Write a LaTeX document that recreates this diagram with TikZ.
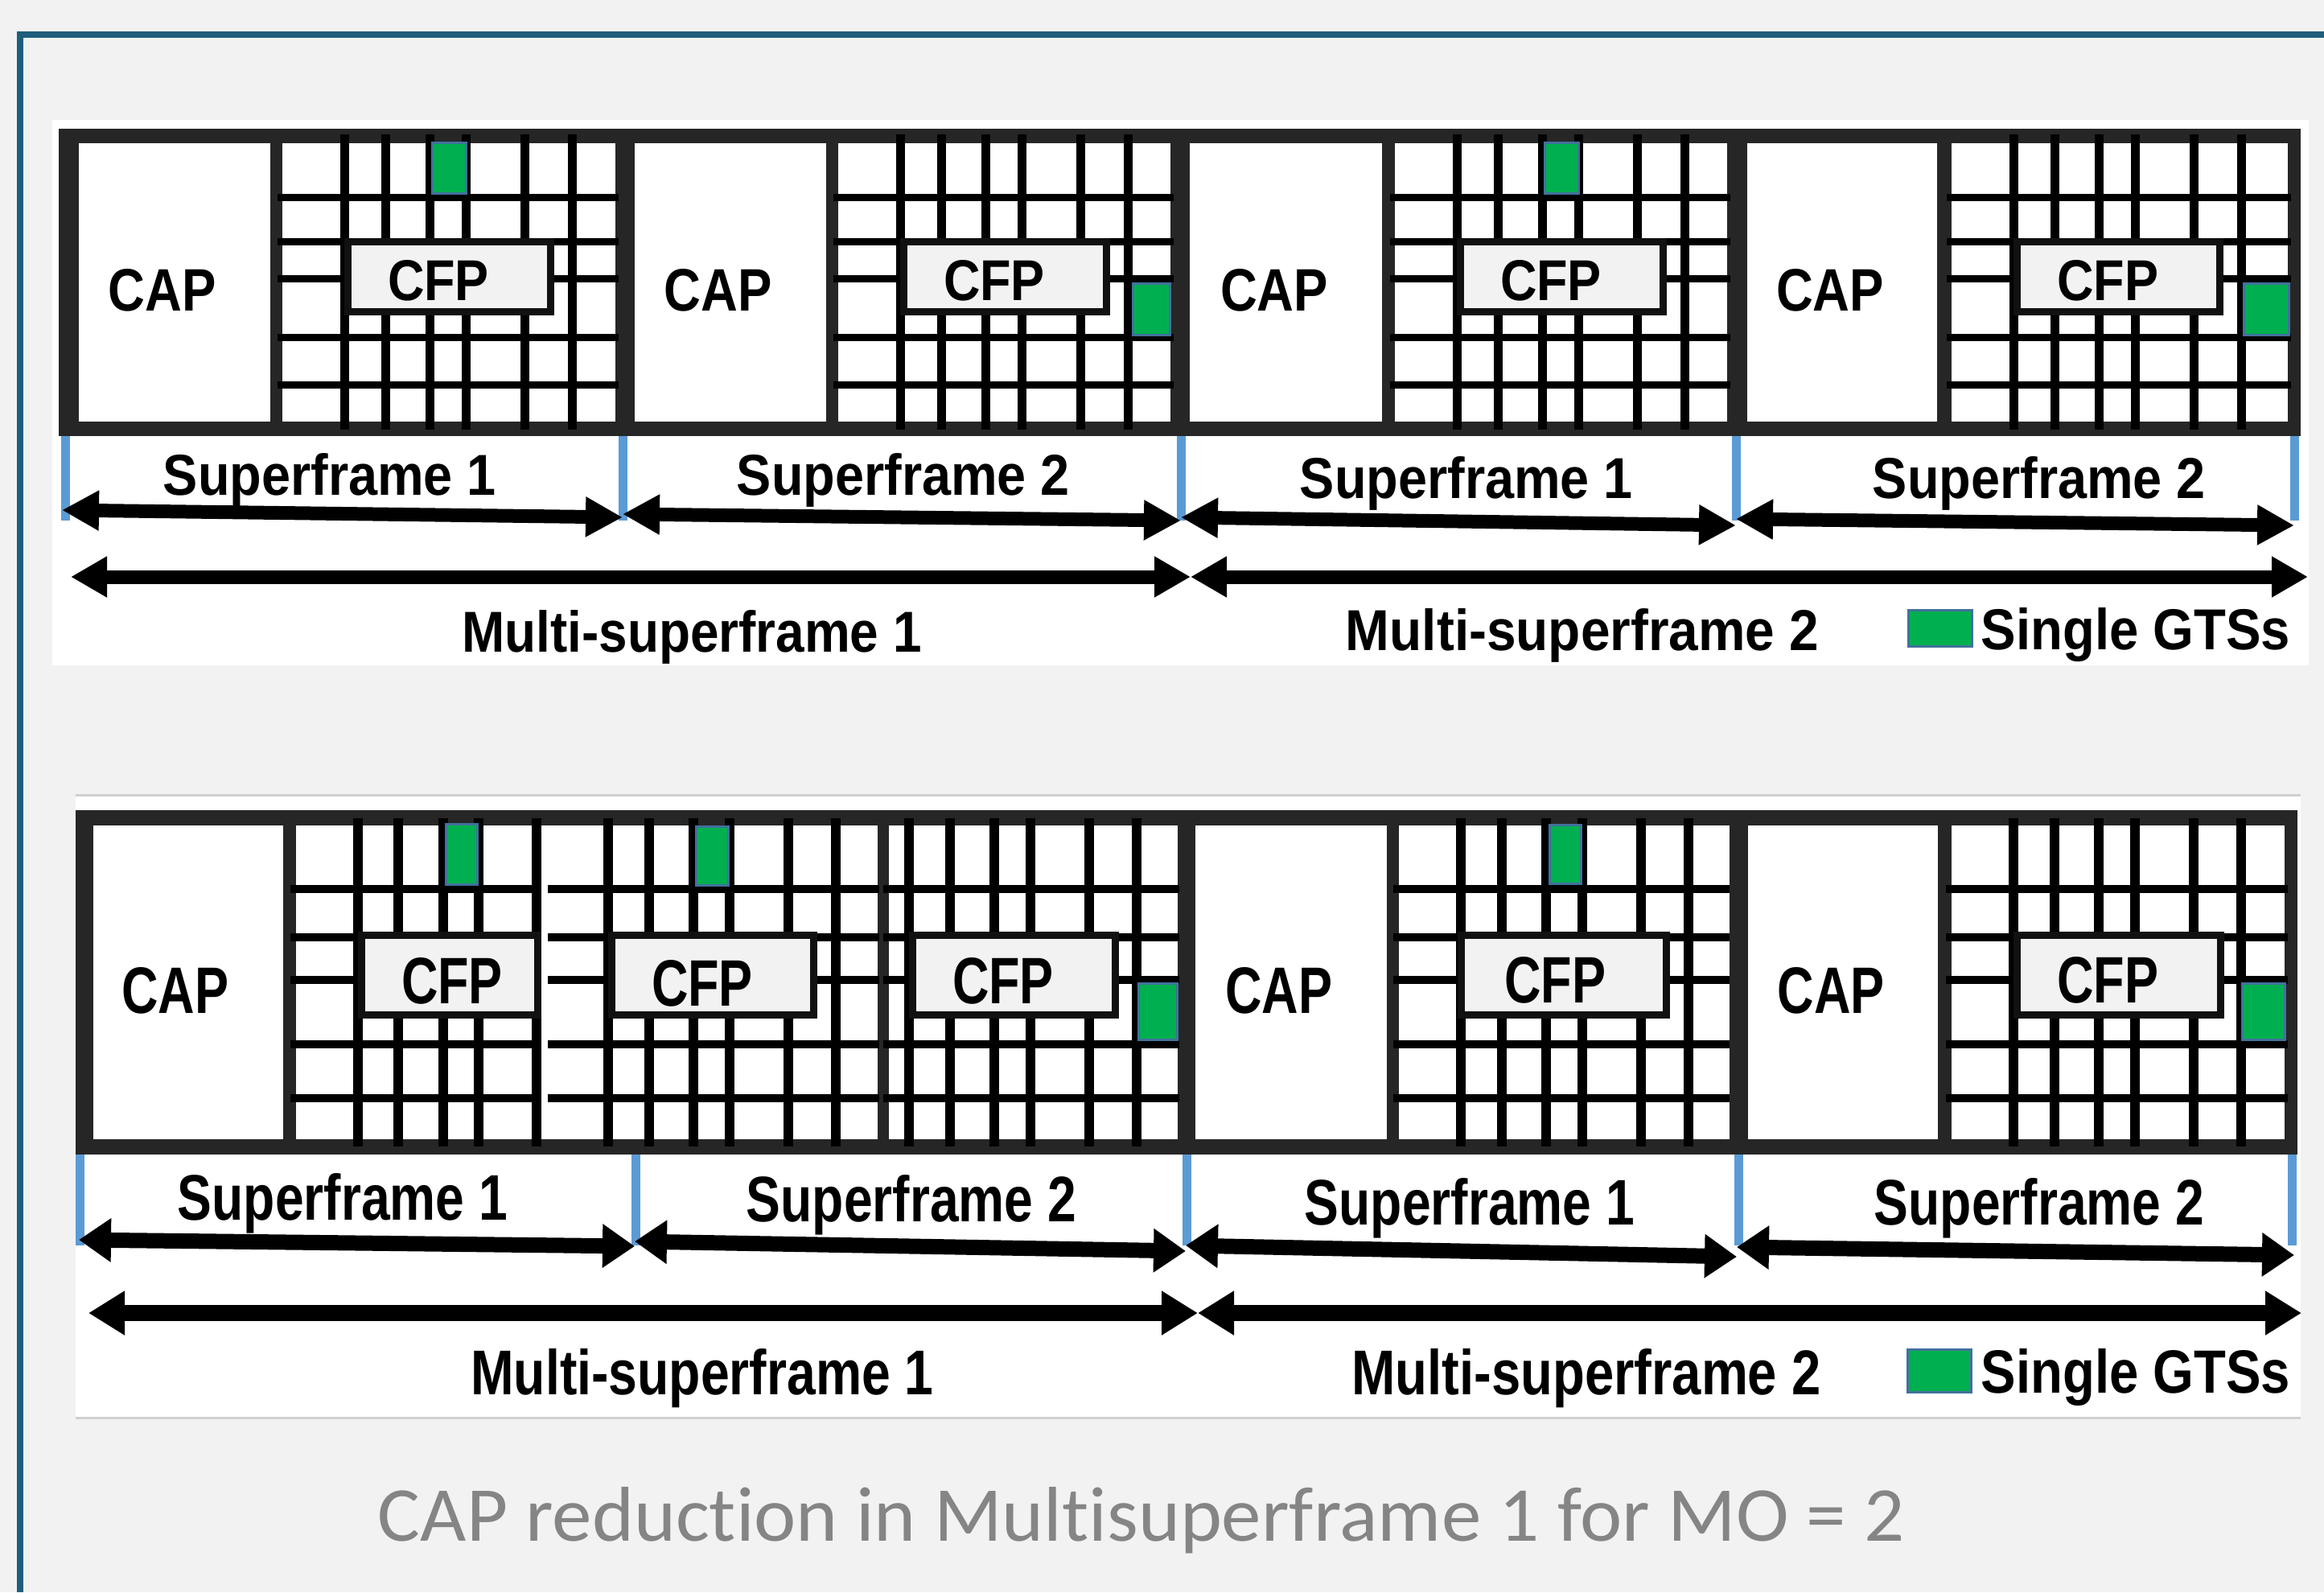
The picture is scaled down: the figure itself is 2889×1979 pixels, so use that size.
\documentclass[tikz,border=0pt]{standalone}
\usepackage{fontspec}
\usepackage{graphicx}
\setsansfont{Liberation Sans}
\newfontfamily\capfont[Ligatures={NoCommon}]{Carlito}
\usetikzlibrary{arrows.meta}
\definecolor{bggray}{HTML}{F2F2F2}
\definecolor{slideteal}{HTML}{1F5E7A}
\definecolor{framedark}{HTML}{262626}
\definecolor{cfpfill}{HTML}{F2F2F2}
\definecolor{cfpedge}{HTML}{111111}
\definecolor{gtsgreen}{HTML}{00B050}
\definecolor{gtsedge}{HTML}{41719C}
\definecolor{boundblue}{HTML}{5B9BD5}
\definecolor{captiongray}{HTML}{858585}
\definecolor{panelline}{HTML}{D0D0D0}
\newcommand{\fitlab}[3]{\resizebox{#1pt}{#2pt}{\sffamily\bfseries #3}}
\begin{document}
\begin{tikzpicture}[x=1pt,y=-1pt,
  txt/.style={anchor=base,inner sep=0pt,outer sep=0pt},
  vline/.style={line width=11pt,black},
  hline/.style={line width=9pt,black},
  vlineb/.style={line width=12pt,black},
  hlineb/.style={line width=10pt,black},
  cfpbox/.style={fill=cfpfill,draw=cfpedge,line width=9pt},
  gts/.style={fill=gtsgreen,draw=gtsedge,line width=3pt},
  bound/.style={draw=boundblue,line width=11pt},
  tline/.style={draw=slideteal,line width=8pt},
  sfa/.style={line width=17pt,arrows={Triangle[length=46pt,width=47pt]-Triangle[length=46pt,width=47pt]}},
  msfa/.style={line width=17pt,arrows={Triangle[length=45pt,width=48pt]-Triangle[length=45pt,width=48pt]}},
  sfb/.style={line width=19pt,arrows={Triangle[length=40pt,width=52pt]-Triangle[length=40pt,width=52pt]}},
  msfb/.style={line width=20pt,arrows={Triangle[length=45pt,width=52pt]-Triangle[length=45pt,width=52pt]}}
]
% background and slide frame
\fill[bggray] (0,0) rectangle (2889,1979);
\useasboundingbox (0,0) rectangle (2889,1979);
\draw[tline] (21,43) -- (2889,43);
\draw[tline] (24.5,39) -- (24.5,1979);

% ================= TOP PANEL =================
\fill[white] (65,149) rectangle (2870,827);
\fill[framedark] (73,160) rectangle (2860,542);
\foreach \a/\b in {98/336, 351/765, 789/1027, 1042/1455, 1479/1718, 1734/2147, 2172/2408, 2426/2844}
  \fill[white] (\a,178) rectangle (\b,524);
\foreach \gx/\ge in {351/765, 1042/1455, 1734/2147, 2426/2844} {
  \foreach \y in {245,300,346,419,478}
    \draw[hline] (\gx-6,\y) -- (\ge+4,\y);
  \foreach \o in {77,128,183,228,301,360}
    \draw[vline] (\gx+\o,167) -- (\gx+\o,534);
  \draw[cfpbox] (\gx+81.5,300.5) rectangle (\gx+333.5,387.5);
}
% single GTSs (top)
\draw[gts] (537,177) rectangle (579,240);
\draw[gts] (1408,352) rectangle (1454,416);
\draw[gts] (1920,177) rectangle (1962,240);
\draw[gts] (2789,352) rectangle (2845,416);
% labels in frames
\node[txt] (capA1) at (202,386) {\fitlab{134}{52}{CAP}};
\node[txt] (capA2) at (893,386) {\fitlab{134}{52}{CAP}};
\node[txt] (capA3) at (1584,386) {\fitlab{134}{52}{CAP}};
\node[txt] (capA4) at (2275,386) {\fitlab{134}{52}{CAP}};
\node[txt] (cfpA1) at (545,373) {\fitlab{126}{50}{CFP}};
\node[txt] (cfpA2) at (1236,373) {\fitlab{126}{50}{CFP}};
\node[txt] (cfpA3) at (1928,373) {\fitlab{126}{50}{CFP}};
\node[txt] (cfpA4) at (2620,373) {\fitlab{126}{50}{CFP}};
% boundaries
\foreach \x in {81,774,1468,2158,2852}
  \draw[bound] (\x,542) -- (\x,647);
% arrows
\coordinate (sa1l) at (77,634);   \coordinate (sa1r) at (774,643);
\coordinate (sa2l) at (774,639);  \coordinate (sa2r) at (1468,647);
\coordinate (sa3l) at (1468,643); \coordinate (sa3r) at (2158,653);
\coordinate (sa4l) at (2158,645); \coordinate (sa4r) at (2852,653);
\draw[sfa] (sa1l) -- (sa1r);
\draw[sfa] (sa2l) -- (sa2r);
\draw[sfa] (sa3l) -- (sa3r);
\draw[sfa] (sa4l) -- (sa4r);
\coordinate (ma1l) at (88,717);   \coordinate (ma1r) at (1480,717);
\coordinate (ma2l) at (1480,717); \coordinate (ma2r) at (2869,717);
\draw[msfa] (ma1l) -- (ma1r);
\draw[msfa] (ma2l) -- (ma2r);
\node[txt] (sfA1) at (410,615) {\fitlab{414}{52}{Superframe 1}};
\node[txt] (sfA2) at (1123,615) {\fitlab{414}{52}{Superframe 2}};
\node[txt] (sfA3) at (1823,619) {\fitlab{414}{52}{Superframe 1}};
\node[txt] (sfA4) at (2535,619) {\fitlab{414}{52}{Superframe 2}};
\node[txt] (msfA1) at (860,810) {\fitlab{571}{52}{Multi-superframe 1}};
\node[txt] (msfA2) at (1967,808) {\fitlab{588}{52}{Multi-superframe 2}};
\draw[gts] (2372,758) rectangle (2451,803);
\node[txt] (legA) at (2655,807) {\fitlab{384}{52}{Single GTSs}};

% ================= BOTTOM PANEL =================
\fill[white] (94,988) rectangle (2860,1762);
\draw[panelline,line width=3pt] (94,988) -- (2860,988);
\draw[panelline,line width=3pt] (94,1762) -- (2860,1762);
\fill[framedark] (94,1007) rectangle (2856,1435);
\foreach \a/\b in {116/352, 368/1091, 1105/1464, 1486/1724, 1739/2150, 2173/2409, 2426/2840}
  \fill[white] (\a,1026) rectangle (\b,1416);
% grid 1 (shortened)
\foreach \y in {1105,1165,1218,1298,1365}
  \draw[hlineb] (361,\y) -- (670,\y);
\foreach \x in {445,495,551,595,667}
  \draw[vlineb] (\x,1017) -- (\x,1425);
% grid 2
\foreach \y in {1105,1165,1218,1298,1365}
  \draw[hlineb] (681,\y) -- (1093,\y);
\foreach \o in {77,128,183,228,301,360}
  \draw[vlineb] (679+\o,1017) -- (679+\o,1425);
% grid 3 (partial)
\foreach \y in {1105,1165,1218,1298,1365}
  \draw[hlineb] (1098,\y) -- (1466,\y);
\foreach \o in {77,128,183,228,301,360}
  \draw[vlineb] (1053+\o,1017) -- (1053+\o,1425);
% grids of multi-superframe 2
\foreach \gx/\ge in {1739/2150, 2426/2844} {
  \foreach \y in {1105,1165,1218,1298,1365}
    \draw[hlineb] (\gx-7,\y) -- (\ge,\y);
  \foreach \o in {77,128,183,228,301,360}
    \draw[vlineb] (\gx+\o,1017) -- (\gx+\o,1425);
}
% CFP boxes (bottom)
\draw[cfpbox] (449.5,1162.5) rectangle (668.5,1261.5);
\draw[cfpbox] (760.5,1162.5) rectangle (1011.5,1261.5);
\draw[cfpbox] (1134.5,1162.5) rectangle (1386.5,1261.5);
\draw[cfpbox] (1816.5,1162.5) rectangle (2071.5,1261.5);
\draw[cfpbox] (2507.5,1162.5) rectangle (2760.5,1261.5);
% single GTSs (bottom)
\draw[gts] (554,1024) rectangle (593,1099);
\draw[gts] (865,1027) rectangle (905,1100);
\draw[gts] (1415,1222) rectangle (1463,1292);
\draw[gts] (1926,1025) rectangle (1965,1098);
\draw[gts] (2787,1222) rectangle (2840,1292);
% labels in frames
\node[txt] (capB1) at (218,1259) {\fitlab{133}{57}{CAP}};
\node[txt] (capB2) at (1590,1259) {\fitlab{133}{57}{CAP}};
\node[txt] (capB3) at (2276,1259) {\fitlab{133}{57}{CAP}};
\node[txt] (cfpB1) at (562,1247) {\fitlab{126}{57}{CFP}};
\node[txt] (cfpB2) at (873,1250) {\fitlab{126}{57}{CFP}};
\node[txt] (cfpB3) at (1247,1247) {\fitlab{126}{57}{CFP}};
\node[txt] (cfpB4) at (1933,1246) {\fitlab{126}{57}{CFP}};
\node[txt] (cfpB5) at (2620,1246) {\fitlab{126}{57}{CFP}};
% boundaries
\foreach \x in {99,790,1475,2161,2849}
  \draw[bound] (\x,1435) -- (\x,1548);
% arrows
\coordinate (sb1l) at (98,1541);   \coordinate (sb1r) at (789,1549);
\coordinate (sb2l) at (789,1543);  \coordinate (sb2r) at (1474,1555);
\coordinate (sb3l) at (1474,1548); \coordinate (sb3r) at (2159,1562);
\coordinate (sb4l) at (2159,1550); \coordinate (sb4r) at (2852,1560);
\draw[sfb] (sb1l) -- (sb1r);
\draw[sfb] (sb2l) -- (sb2r);
\draw[sfb] (sb3l) -- (sb3r);
\draw[sfb] (sb4l) -- (sb4r);
\coordinate (mb1l) at (110,1632);  \coordinate (mb1r) at (1489,1632);
\coordinate (mb2l) at (1489,1632); \coordinate (mb2r) at (2861,1632);
\draw[msfb] (mb1l) -- (mb1r);
\draw[msfb] (mb2l) -- (mb2r);
\node[txt] (sfB1) at (426,1516) {\fitlab{410}{58}{Superframe 1}};
\node[txt] (sfB2) at (1133,1518) {\fitlab{410}{58}{Superframe 2}};
\node[txt] (sfB3) at (1827,1522) {\fitlab{410}{58}{Superframe 1}};
\node[txt] (sfB4) at (2535,1522) {\fitlab{410}{58}{Superframe 2}};
\node[txt] (msfB1) at (873,1733) {\fitlab{575}{57}{Multi-superframe 1}};
\node[txt] (msfB2) at (1972,1733) {\fitlab{583}{57}{Multi-superframe 2}};
\draw[gts] (2371,1677) rectangle (2450,1730);
\node[txt] (legB) at (2655,1731) {\fitlab{384}{55}{Single GTSs}};

% caption
\node[txt,text=captiongray] (caption) at (1419,1915)
  {\resizebox{1898pt}{67pt}{\capfont CAP reduction in Multisuperframe 1 for MO = 2}};
\end{tikzpicture}
\end{document}
